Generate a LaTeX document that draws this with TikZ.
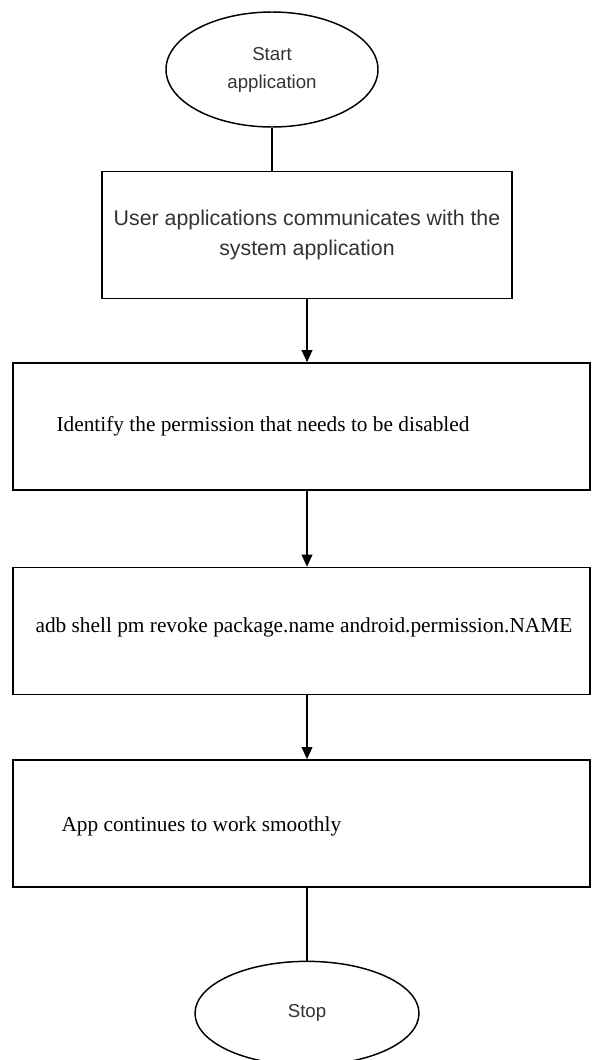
\documentclass[tikz,border=0pt]{standalone}
\usepackage{fontspec}
\setmainfont{Liberation Serif}
\setsansfont{Liberation Sans}
\usepackage{tikz}
\usetikzlibrary{positioning,shapes,arrows.meta}
\tikzstyle{term}=[%
      ellipse, draw=black, line width=1.1pt, fill=none, text=black!80,
      font=\sffamily\fontsize{14pt}{21pt}\selectfont, align=center
]
\tikzstyle{proc}=[%
      rectangle, draw=black, line width=1.1pt, fill=none,
      minimum width=432.75pt, minimum height=95.25pt, inner sep=0pt
]
\tikzstyle{txt}=[%
      font=\rmfamily\fontsize{16pt}{19pt}\selectfont, inner sep=0pt, anchor=west
]
\tikzstyle{flow}=[-{Triangle[width=8pt,length=9pt]}, line width=1.1pt]

\begin{document}
\begin{tikzpicture}[x=0.75pt, y=-0.75pt]
\useasboundingbox (0,0) rectangle (592,1060);
\node[term, minimum width=159pt, minimum height=86.25pt](start) at (272,69.5){Start\\application};
\node[proc, minimum width=307.5pt, align=center, text=black!80,
      font=\sffamily\fontsize{16pt}{22.5pt}\selectfont,
      below=32.25pt of start, xshift=26.25pt](user){User applications communicates with the\\system application};
\node[proc, below=47.25pt of user, xshift=-4.125pt](ident){};
\node[proc, below=57pt of ident](revoke){};
\node[proc, below=48pt of revoke](cont){};
\node[term, minimum width=168pt, minimum height=78pt, below=54.75pt of cont, xshift=4.125pt](stop){Stop};

% step texts sit near the left side of each box
\node[txt, right=33pt of ident.west](identtxt){Identify the permission that needs to be disabled};
\node[txt, right=17.25pt of revoke.west, yshift=3pt](revoketxt){adb shell pm revoke package.name android.permission.NAME};
\node[txt, right=36.75pt of cont.west, yshift=-2pt](conttxt){App continues to work smoothly};

\draw[line width=1.1pt](start) -- (start |- user.north);
\draw[flow](user) -- (user |- ident.north);
\draw[flow](user.south |- ident.south) -- (user.south |- revoke.north);
\draw[flow](user.south |- revoke.south) -- (user.south |- cont.north);
\draw[line width=1.1pt](user.south |- cont.south) -- (stop);
\end{tikzpicture}
\end{document}
